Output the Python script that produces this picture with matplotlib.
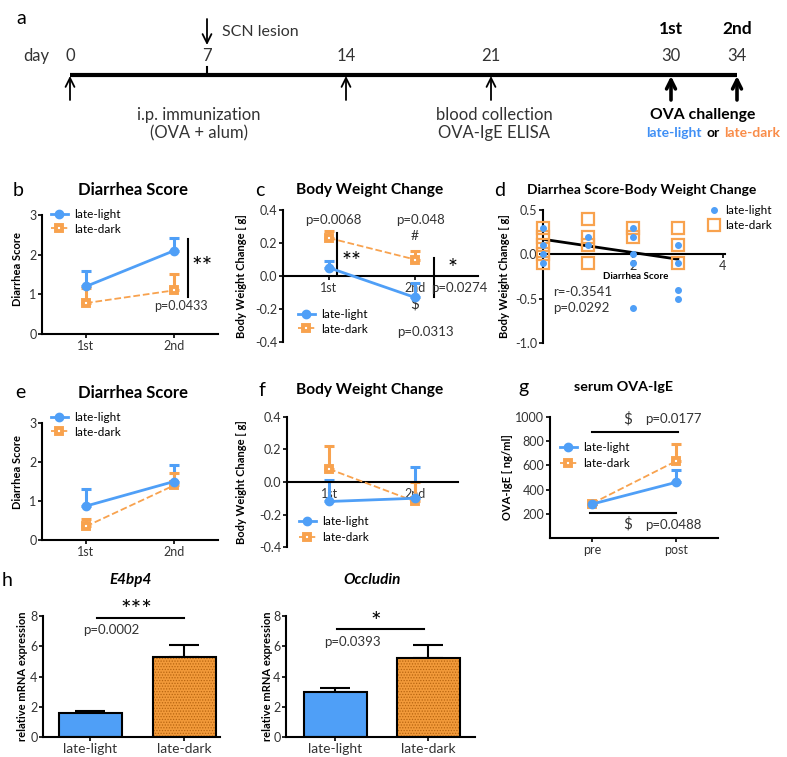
import numpy as np
import matplotlib
matplotlib.use("Agg")
import matplotlib.pyplot as plt
from matplotlib.ticker import FormatStrFormatter

plt.rcParams['font.family'] = ['Lato', 'DejaVu Sans']
plt.rcParams['axes.unicode_minus'] = False
plt.rcParams['hatch.linewidth'] = 0.6

BLUE = '#4f9ff7'
ORANGE = '#f8a24e'
BAR_ORANGE = '#f29a3a'
TXT = '#333333'
W, H = 787, 757

# ---- data ----
days = [0, 7, 14, 21, 30, 34]
arrow_days = [0, 14, 21]
challenge_days = [30, 34]
challenge = ['1st', '2nd']

b_light = [1.2, 2.1]
b_light_err = [0.4, 0.33]
b_dark = [0.78, 1.1]
b_dark_err = [0.37, 0.42]

c_light = [0.05, -0.13]
c_light_err = [0.04, 0.09]
c_dark = [0.23, 0.10]
c_dark_err = [0.04, 0.05]

d_light_x = [0, 0, 0, 0, 1, 1, 2, 2, 2, 2, 2, 3, 3, 3, 3]
d_light_y = [0.3, 0.1, 0.0, -0.1, 0.2, 0.1, 0.3, 0.2, 0.0, -0.1, -0.6, 0.1, -0.1, -0.4, -0.5]
d_dark_x = [0, 0, 0, 0, 0, 1, 1, 1, 1, 2, 2, 3, 3, 3]
d_dark_y = [0.3, 0.2, 0.1, 0.0, -0.1, 0.4, 0.2, 0.1, -0.1, 0.3, 0.2, 0.3, 0.1, -0.1]
d_fit_x = [0, 3]
d_fit_y = [0.17, -0.055]

e_light = [0.87, 1.5]
e_light_err = [0.43, 0.42]
e_dark = [0.35, 1.4]
e_dark_err = [0.2, 0.33]

f_light = [-0.12, -0.10]
f_light_err = [0.13, 0.19]
f_dark = [0.08, -0.12]
f_dark_err = [0.14, 0.12]

g_groups = ['pre', 'post']
g_light = [280, 460]
g_light_err = [0, 100]
g_dark = [285, 635]
g_dark_err = [0, 145]

h_groups = ['late-light', 'late-dark']
e4bp4 = [1.6, 5.3]
e4bp4_err = [0.15, 0.8]
occludin = [2.95, 5.2]
occludin_err = [0.3, 0.9]

# timeline is not drawn to scale: where each day sits across the page (pixels)
tl_days = [-20, 0, 7, 14, 21, 30, 34, 60]
tl_px = [-321, 70, 207, 346, 491, 671, 737, 1166]


def rect(l, t, r, b):
    return [l / W, 1 - b / H, (r - l) / W, (b - t) / H]


def ftext(x, y, s, **kw):
    fig.text(x / W, 1 - y / H, s, **kw)


def style(ax, size=9):
    for s in ['top', 'right']:
        ax.spines[s].set_visible(False)
    for s in ['left', 'bottom']:
        ax.spines[s].set_linewidth(1.5)
    ax.tick_params(width=1.2, length=3, labelsize=size, labelcolor=TXT, pad=1,
                   color='black')


def ylab(ax, text, xpx, ypx=None, size=8):
    ax.set_ylabel(text, fontsize=size, fontweight='bold', color='black')
    pos = ax.get_position()
    ya = 0.5 if ypx is None else ((1 - ypx / H) - pos.y0) / pos.height
    ax.yaxis.set_label_coords((xpx / W - pos.x0) / pos.width, ya)


def legend_at(ax, handles, labels, xpx, ypx, spacing=0.3, hl=1.4):
    ax.legend(handles, labels, loc='upper left',
              bbox_to_anchor=(xpx / W, 1 - ypx / H),
              bbox_transform=fig.transFigure, frameon=False, borderpad=0,
              borderaxespad=0, handlelength=hl, handletextpad=0.6,
              labelspacing=spacing, fontsize=8.5, numpoints=1)


def series(ax, light, lerr, dark, derr):
    x = np.arange(len(light))
    z = np.zeros(len(light))
    ax.errorbar(x, light, yerr=[z, lerr], fmt='none', ecolor=BLUE,
                elinewidth=2.2, capsize=3.5, capthick=2.2, zorder=2)
    ax.errorbar(x, dark, yerr=[z, derr], fmt='none', ecolor=ORANGE,
                elinewidth=2.2, capsize=3.5, capthick=2.2, zorder=2)
    ax.plot(x, dark, color=ORANGE, lw=1.3, ls='--', marker='s', ms=5,
            mfc='white', mec=ORANGE, mew=2.8, label='late-dark', zorder=3)
    ax.plot(x, light, color=BLUE, lw=2, marker='o', ms=6,
            label='late-light', zorder=4)
    h, l = ax.get_legend_handles_labels()
    return h[::-1], l[::-1]


fig = plt.figure(figsize=(7.87, 7.57), dpi=100)

# ---- panel a: timeline ----
ax0 = fig.add_axes([0, 1 - 160 / H, 1, 160 / H])
ax0.set_xscale('function', functions=(lambda d: np.interp(d, tl_days, tl_px),
                                      lambda p: np.interp(p, tl_px, tl_days)))
ax0.set_xlim(np.interp(0, tl_px, tl_days), np.interp(W, tl_px, tl_days))
ax0.set_ylim(160, 0)
ax0.axis('off')
ax0.plot([days[0], days[-1]], [75, 75], color='black', lw=3, solid_capstyle='butt')
ax0.plot([7, 7], [67, 75], color='black', lw=1.5)
for d in days:
    ax0.text(d, 56, str(d), ha='center', va='center', fontsize=12, color=TXT)
for d in arrow_days:
    ax0.annotate('', xy=(d, 76), xytext=(d, 100),
                 arrowprops=dict(arrowstyle='->', lw=1.3, color='black',
                                 mutation_scale=16, shrinkA=0, shrinkB=0))
for d, lab in zip(challenge_days, challenge):
    ax0.annotate('', xy=(d, 76), xytext=(d, 100),
                 arrowprops=dict(arrowstyle='->', lw=2.6, color='black',
                                 mutation_scale=16, shrinkA=0, shrinkB=0))
    ax0.text(d, 29, lab, ha='center', va='center', fontsize=12.5, fontweight='bold')
ax0.annotate('', xy=(7, 45), xytext=(7, 19),
             arrowprops=dict(arrowstyle='->', lw=1.3, color='black',
                             mutation_scale=16, shrinkA=0, shrinkB=0))
ftext(36, 56, 'day', ha='center', va='center', fontsize=12, color=TXT)
ftext(222, 32, 'SCN lesion', ha='left', va='center', fontsize=11.5, color=TXT)
ftext(199, 124, 'i.p. immunization\n(OVA + alum)', ha='center', va='center',
      fontsize=12, color=TXT, linespacing=1.15)
ftext(494, 124, 'blood collection\nOVA-IgE ELISA', ha='center', va='center',
      fontsize=12, color=TXT, linespacing=1.15)
ftext(703, 115, 'OVA challenge', ha='center', va='center', fontsize=11.3,
      fontweight='bold')
ftext(702, 133, 'late-light', ha='right', va='center', fontsize=10,
      fontweight='bold', color='#3f8ff5')
ftext(713, 133, 'or', ha='center', va='center', fontsize=10, fontweight='bold')
ftext(724, 133, 'late-dark', ha='left', va='center', fontsize=10,
      fontweight='bold', color='#f98c48')

# ---- panel b ----
axb = fig.add_axes(rect(42, 215, 218, 334))
style(axb)
hb, lb = series(axb, b_light, b_light_err, b_dark, b_dark_err)
axb.set_xlim(-0.5, 1.5)
axb.set_ylim(0, 3)
axb.set_yticks([0, 1, 2, 3])
axb.set_xticks([0, 1])
axb.set_xticklabels(challenge)
ylab(axb, 'Diarrhea Score', 23, 269)
legend_at(axb, hb, lb, 51, 209)
axb.plot([1.16, 1.16], [0.93, 2.4], color='black', lw=1.5)
axb.text(1.32, 1.68, '**', ha='center', va='center', fontsize=18)
axb.text(1.08, 0.7, 'p=0.0433', ha='center', va='center', fontsize=9, color=TXT)

# ---- panel c ----
axc = fig.add_axes(rect(283, 210, 478, 342))
style(axc)
hc, lc = series(axc, c_light, c_light_err, c_dark, c_dark_err)
axc.spines['bottom'].set_position(('data', 0))
axc.set_xlim(-0.535, 1.733)
axc.set_ylim(-0.4, 0.4)
axc.set_yticks([-0.4, -0.2, 0.0, 0.2, 0.4])
axc.yaxis.set_major_formatter(FormatStrFormatter('%.1f'))
axc.set_xticks([0, 1])
axc.set_xticklabels(challenge)
ylab(axc, 'Body Weight Change [ g]', 247)
legend_at(axc, hc, lc, 298, 309)
axc.text(0.05, 0.34, 'p=0.0068', ha='center', va='center', fontsize=9.5, color=TXT)
axc.plot([0.09, 0.09], [0.01, 0.26], color='black', lw=1.5)
axc.text(0.26, 0.09, '**', ha='center', va='center', fontsize=17)
axc.text(1.07, 0.34, 'p=0.048', ha='center', va='center', fontsize=9.5, color=TXT)
axc.text(1.0, 0.24, '#', ha='center', va='center', fontsize=10, color=TXT)
axc.plot([1.22, 1.22], [-0.13, 0.11], color='black', lw=1.5)
axc.text(1.44, 0.045, '*', ha='center', va='center', fontsize=17)
axc.text(1.19, -0.075, 'p=0.0274', ha='left', va='center', fontsize=9.5, color=TXT)
axc.text(1.0, -0.17, r'\$', ha='center', va='center', fontsize=11, color=TXT)
axc.text(1.12, -0.34, 'p=0.0313', ha='center', va='center', fontsize=9.5, color=TXT)

# ---- panel d ----
axd = fig.add_axes(rect(543, 210, 725, 343))
style(axd)
axd.spines['bottom'].set_position(('data', 0))
axd.plot(d_light_x, d_light_y, ls='none', marker='o', ms=4, color=BLUE,
         label='late-light', zorder=4, clip_on=False)
axd.plot(d_dark_x, d_dark_y, ls='none', marker='s', ms=8, mfc='none',
         mec=ORANGE, mew=1.6, label='late-dark', zorder=3, clip_on=False)
axd.plot(d_fit_x, d_fit_y, color='black', lw=2, zorder=2)
axd.set_xlim(0, 4.05)
axd.set_ylim(-1.0, 0.5)
axd.set_xticks([2, 4])
axd.set_yticks([-1.0, -0.5, 0.0, 0.5])
axd.yaxis.set_major_formatter(FormatStrFormatter('%.1f'))
ylab(axd, 'Body Weight Change [ g]', 510)
axd.text(2.07, -0.25, 'Diarrhea Score', ha='center', va='center', fontsize=7,
         fontweight='bold')
axd.text(0.22, -0.42, 'r=-0.3541', ha='left', va='center', fontsize=9.5, color=TXT)
axd.text(0.22, -0.6, 'p=0.0292', ha='left', va='center', fontsize=9.5, color=TXT)
hd, ld = axd.get_legend_handles_labels()
legend_at(axd, hd, ld, 709, 205, spacing=0.35, hl=0.8)

# ---- panel e ----
axe = fig.add_axes(rect(42, 423, 218, 540))
style(axe)
he, le = series(axe, e_light, e_light_err, e_dark, e_dark_err)
axe.set_xlim(-0.5, 1.5)
axe.set_ylim(0, 3)
axe.set_yticks([0, 1, 2, 3])
axe.set_xticks([0, 1])
axe.set_xticklabels(challenge)
ylab(axe, 'Diarrhea Score', 23, 472)
legend_at(axe, he, le, 51, 412)

# ---- panel f ----
axf = fig.add_axes(rect(287, 417, 458, 547))
style(axf)
hf, lf = series(axf, f_light, f_light_err, f_dark, f_dark_err)
axf.spines['bottom'].set_position(('data', 0))
axf.set_xlim(-0.49, 1.5)
axf.set_ylim(-0.4, 0.4)
axf.set_yticks([-0.4, -0.2, 0.0, 0.2, 0.4])
axf.yaxis.set_major_formatter(FormatStrFormatter('%.1f'))
axf.set_xticks([0, 1])
axf.set_xticklabels(challenge)
ylab(axf, 'Body Weight Change [ g]', 247)
legend_at(axf, hf, lf, 299, 516, spacing=0.45)

# ---- panel g ----
axg = fig.add_axes(rect(550, 417, 718, 538))
style(axg)
hg, lg = series(axg, g_light, g_light_err, g_dark, g_dark_err)
axg.set_xlim(-0.5, 1.5)
axg.set_ylim(0, 1000)
axg.set_yticks([200, 400, 600, 800, 1000])
axg.set_xticks([0, 1])
axg.set_xticklabels(g_groups)
ylab(axg, 'OVA-IgE [ ng/ml]', 513)
legend_at(axg, hg, lg, 560, 442, spacing=0.45)
axg.plot([0.0, 1.02], [875, 875], color='black', lw=1.5)
axg.plot([-0.02, 1.0], [205, 205], color='black', lw=1.5)
axg.text(0.43, 985, r'\$', ha='center', va='center', fontsize=11, color=TXT)
axg.text(0.63, 985, 'p=0.0177', ha='left', va='center', fontsize=9.5, color=TXT)
axg.text(0.43, 110, r'\$', ha='center', va='center', fontsize=11, color=TXT)
axg.text(0.63, 110, 'p=0.0488', ha='left', va='center', fontsize=9.5, color=TXT)


# ---- panel h ----
def bars(ax, vals, errs):
    x = np.arange(len(vals))
    ax.bar(x[0], vals[0], width=0.67, color=BLUE, edgecolor='black', lw=1.5, zorder=2)
    ax.bar(x[1], vals[1], width=0.67, color=BAR_ORANGE, edgecolor='#b8650f',
           hatch='......', lw=0, zorder=2)
    ax.bar(x[1], vals[1], width=0.67, fill=False, edgecolor='black', lw=1.5, zorder=3)
    ax.errorbar(x, vals, yerr=[np.zeros(len(vals)), errs], fmt='none', ecolor='black',
                elinewidth=1.5, capsize=11, capthick=1.5, zorder=1)
    ax.set_ylim(0, 8)
    ax.set_yticks([0, 2, 4, 6, 8])
    ax.set_xticks(x)
    ax.set_xticklabels(h_groups, fontsize=10, color=TXT)


axh1 = fig.add_axes(rect(43, 616, 220, 737))
style(axh1)
bars(axh1, e4bp4, e4bp4_err)
axh1.set_xlim(-0.5, 1.38)
ylab(axh1, 'relative mRNA expression', 28)
axh1.plot([0.07, 1.0], [7.85, 7.85], color='black', lw=1.5, clip_on=False)
axh1.text(0.49, 8.35, '***', ha='center', va='center', fontsize=18, clip_on=False)
axh1.text(0.23, 7.1, 'p=0.0002', ha='center', va='center', fontsize=9.5, color=TXT)

axh2 = fig.add_axes(rect(286, 616, 475, 737))
style(axh2)
bars(axh2, occludin, occludin_err)
axh2.set_xlim(-0.53, 1.5)
ylab(axh2, 'relative mRNA expression', 273)
axh2.plot([0.02, 0.95], [7.15, 7.15], color='black', lw=1.5)
axh2.text(0.43, 7.6, '*', ha='center', va='center', fontsize=18)
axh2.text(0.18, 6.3, 'p=0.0393', ha='center', va='center', fontsize=9.5, color=TXT)

# ---- titles and panel letters ----
titles = [(133, 190, 'Diarrhea Score', 12), (370, 190, 'Body Weight Change', 11.2),
          (642, 190, 'Diarrhea Score-Body Weight Change', 10),
          (133, 393, 'Diarrhea Score', 12), (370, 390, 'Body Weight Change', 11.2),
          (624, 387, 'serum OVA-IgE', 10.3)]
for x, y, t, s in titles:
    ftext(x, y, t, ha='center', va='center', fontsize=s, fontweight='bold')
ftext(131, 580, 'E4bp4', ha='center', va='center', fontsize=11, fontweight='bold',
      style='italic')
ftext(372, 580, 'Occludin', ha='center', va='center', fontsize=11, fontweight='bold',
      style='italic')
letters = [(21, 18, 'a'), (18, 190, 'b'), (260, 190, 'c'), (500, 190, 'd'),
           (20, 392, 'e'), (262, 390, 'f'), (523, 387, 'g'), (7, 580, 'h')]
for x, y, t in letters:
    ftext(x, y, t, ha='center', va='center', fontsize=14)

fig.savefig('out.png', dpi=100)
